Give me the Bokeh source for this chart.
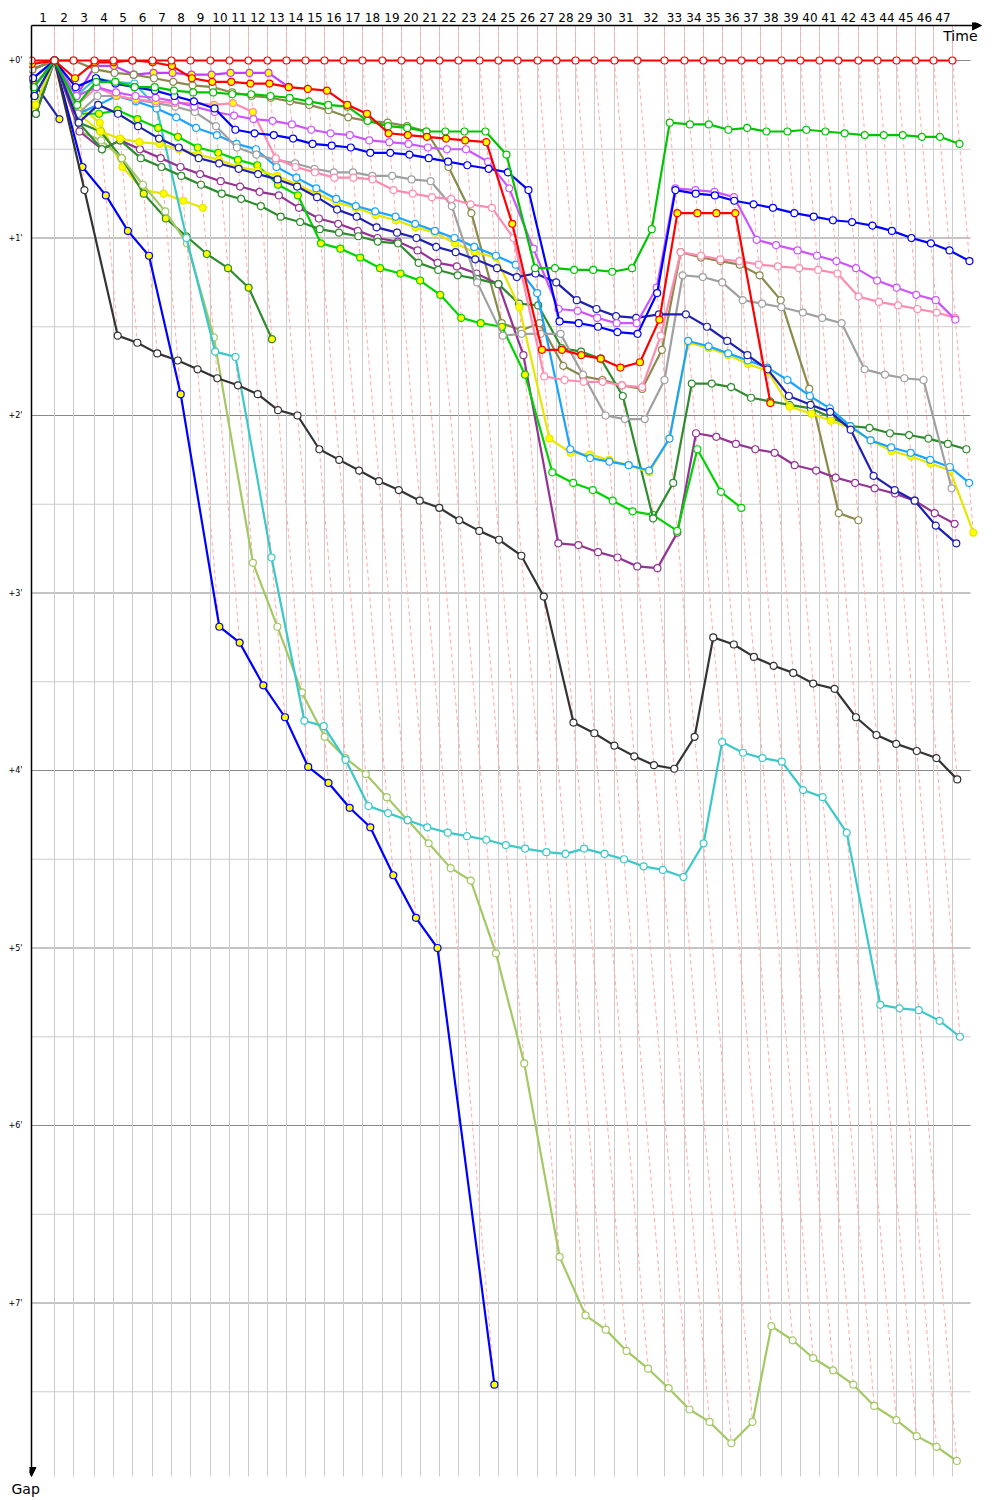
from bokeh.plotting import figure
from bokeh.models import (ColumnDataSource, FixedTicker, Arrow, NormalHead, Label, Range1d,
                          Title)
from bokeh.embed import file_html
from bokeh.resources import INLINE

# leader's lap completion times (minutes since start), laps 0..47
lap_times = [0.0, 1.533, 2.8, 4.2, 5.467, 6.733, 8.067, 9.333, 10.6, 11.933, 13.2,
             14.467, 15.733, 17.0, 18.267, 19.533, 20.8, 22.067, 23.4, 24.667, 25.933,
             27.2, 28.467, 29.867, 31.133, 32.4, 33.733, 35.0, 36.267, 37.533, 38.867,
             40.4, 42.2, 43.533, 44.8, 46.067, 47.333, 48.6, 50.0, 51.267, 52.533,
             53.8, 55.133, 56.4, 57.667, 58.933, 60.133, 61.4]
lap_labels = [str(k) for k in range(1, 48)]
gap_ticks = [0, 1, 2, 3, 4, 5, 6, 7]
gap_labels = ["+0'", "+1'", "+2'", "+3'", "+4'", "+5'", "+6'", "+7'"]

# gap to leader (minutes) per completed lap, starting at lap 0
gaps_leader = [0, 0, 0, 0, 0, 0, 0, 0, 0, 0, 0, 0, 0, 0, 0, 0, 0, 0, 0, 0, 0, 0, 0, 0,
               0, 0, 0, 0, 0, 0, 0, 0, 0, 0, 0, 0, 0, 0, 0, 0, 0, 0, 0, 0, 0, 0, 0, 0]
gaps_red2 = [0.02, 0, 0.1, 0.01, 0.01, 0.0, 0.01, 0.03, 0.1, 0.12, 0.12, 0.13, 0.13, 0.15,
             0.16, 0.17, 0.25, 0.3, 0.41, 0.42, 0.43, 0.44, 0.45, 0.46, 0.92, 1.63, 1.63,
             1.66, 1.68, 1.73, 1.70, 1.46, 0.86, 0.86, 0.86, 0.86, 1.93]
gaps_green = [0.15, 0, 0.25, 0.12, 0.12, 0.15, 0.15, 0.17, 0.18, 0.18, 0.19, 0.19, 0.2, 0.21,
              0.23, 0.25, 0.26, 0.34, 0.37, 0.38, 0.4, 0.4, 0.4, 0.4, 0.53, 1.17, 1.17, 1.18,
              1.18, 1.19, 1.17, 0.95, 0.35, 0.36, 0.36, 0.39, 0.38, 0.4, 0.4, 0.39, 0.4,
              0.41, 0.42, 0.42, 0.42, 0.43, 0.43, 0.47]
gaps_olive = [0.05, 0, 0, 0.05, 0.07, 0.08, 0.1, 0.12, 0.14, 0.15, 0.18, 0.2, 0.21, 0.23,
              0.25, 0.28, 0.32, 0.34, 0.35, 0.37, 0.4, 0.6, 0.86, 1.48, 1.52, 1.48, 1.72,
              1.78, 1.8, 1.83, 1.85, 1.63, 1.08, 1.11, 1.13, 1.15, 1.21, 1.35, 1.85, 2.55, 2.59]
gaps_blue = [0.1, 0, 0.15, 0.1, 0.13, 0.15, 0.17, 0.2, 0.23, 0.27, 0.39, 0.41, 0.42, 0.44,
             0.47, 0.48, 0.49, 0.52, 0.52, 0.53, 0.55, 0.57, 0.59, 0.61, 0.63, 0.73, 1.47,
             1.48, 1.5, 1.53, 1.54, 1.31, 0.73, 0.75, 0.76, 0.79, 0.81, 0.83, 0.86, 0.88,
             0.9, 0.91, 0.93, 0.96, 1.0, 1.03, 1.07, 1.13]
gaps_navy = [0.2, 0, 0.35, 0.25, 0.3, 0.37, 0.44, 0.49, 0.55, 0.58, 0.61, 0.64, 0.67, 0.71,
             0.77, 0.84, 0.88, 0.94, 0.97, 1.0, 1.05, 1.08, 1.12, 1.17, 1.22, 1.2, 1.25,
             1.35, 1.4, 1.44, 1.45, 1.43, 1.43, 1.5, 1.58, 1.66, 1.74, 1.89, 1.94, 1.98,
             2.08, 2.34, 2.42, 2.48, 2.62, 2.72]
gaps_grey = [0.1, 0, 0.3, 0.2, 0.2, 0.22, 0.24, 0.26, 0.29, 0.37, 0.49, 0.53, 0.56, 0.58,
             0.61, 0.63, 0.63, 0.65, 0.65, 0.67, 0.68, 0.82, 1.25, 1.55, 1.54, 1.54, 1.54,
             1.77, 2.0, 2.02, 2.02, 1.8, 1.21, 1.22, 1.25, 1.35, 1.37, 1.39, 1.42, 1.45,
             1.48, 1.74, 1.77, 1.79, 1.8, 2.41]
gaps_pink = [0.15, 0, 0.25, 0.15, 0.2, 0.22, 0.23, 0.24, 0.24, 0.25, 0.24, 0.29, 0.55, 0.6,
             0.63, 0.66, 0.66, 0.67, 0.73, 0.75, 0.77, 0.78, 0.81, 0.83, 1.0, 1.78, 1.8,
             1.81, 1.81, 1.83, 1.84, 1.55, 1.08, 1.1, 1.12, 1.13, 1.15, 1.16, 1.17, 1.18,
             1.2, 1.33, 1.36, 1.38, 1.4, 1.42, 1.45]
gaps_sky = [0.2, 0, 0.3, 0.25, 0.2, 0.23, 0.27, 0.32, 0.38, 0.42, 0.47, 0.5, 0.6, 0.66,
            0.72, 0.78, 0.82, 0.85, 0.88, 0.92, 0.96, 1.0, 1.05, 1.1, 1.15, 1.31, 2.19,
            2.24, 2.26, 2.28, 2.31, 2.13, 1.58, 1.61, 1.65, 1.69, 1.73, 1.8, 1.89, 1.96,
            2.06, 2.14, 2.18, 2.21, 2.25, 2.29, 2.38]
gaps_yellow = [0.25, 0, 0.3, 0.4, 0.44, 0.46, 0.47, 0.5, 0.53, 0.56, 0.6, 0.62, 0.65, 0.7,
               0.75, 0.8, 0.83, 0.87, 0.9, 0.94, 0.97, 1.03, 1.08, 1.11, 1.39, 2.13, 2.21,
               2.22, 2.25, 2.28, 2.32, 2.13, 1.59, 1.62, 1.66, 1.71, 1.75, 1.95, 1.99, 2.03,
               2.07, 2.14, 2.2, 2.23, 2.27, 2.31, 2.66]
gaps_yellow2 = [0.25, 0, 0.25, 0.35, 0.6, 0.73, 0.75, 0.79, 0.83]
gaps_forest2 = [0.3, 0, 0.35, 0.4, 0.55, 0.75, 0.89, 0.99, 1.09, 1.17, 1.28, 1.57]
gaps_forest = [0.3, 0, 0.35, 0.5, 0.45, 0.55, 0.6, 0.65, 0.7, 0.75, 0.78, 0.82, 0.88, 0.91,
               0.95, 0.97, 0.99, 1.02, 1.03, 1.14, 1.18, 1.21, 1.23, 1.26, 1.37, 1.38, 1.62,
               1.64, 1.68, 1.89, 2.58, 2.38, 1.82, 1.82, 1.84, 1.9, 1.92, 1.94, 1.96, 2.01,
               2.06, 2.07, 2.1, 2.11, 2.13, 2.16, 2.19]
gaps_lime = [0.25, 0, 0.3, 0.3, 0.28, 0.33, 0.38, 0.43, 0.49, 0.52, 0.56, 0.59, 0.7, 0.76,
             1.03, 1.06, 1.11, 1.17, 1.2, 1.24, 1.32, 1.45, 1.48, 1.5, 1.77, 2.32, 2.38,
             2.42, 2.48, 2.54, 2.56, 2.65, 2.19, 2.43, 2.52]
gaps_purple = [0.3, 0, 0.4, 0.5, 0.45, 0.5, 0.55, 0.6, 0.64, 0.68, 0.71, 0.74, 0.76, 0.83,
               0.89, 0.92, 0.96, 1.0, 1.02, 1.07, 1.14, 1.16, 1.2, 1.26, 1.66, 2.72, 2.73,
               2.77, 2.8, 2.85, 2.86, 2.66, 2.1, 2.12, 2.16, 2.19, 2.21, 2.28, 2.31, 2.35,
               2.38, 2.41, 2.44, 2.48, 2.55, 2.61]
gaps_black = [0.05, 0, 0.73, 1.55, 1.59, 1.65, 1.69, 1.74, 1.79, 1.83, 1.88, 1.97, 2.0, 2.19,
              2.25, 2.31, 2.37, 2.42, 2.48, 2.52, 2.59, 2.65, 2.7, 2.79, 3.02, 3.73, 3.79,
              3.86, 3.92, 3.97, 3.99, 3.81, 3.25, 3.29, 3.36, 3.41, 3.45, 3.51, 3.54, 3.7,
              3.8, 3.85, 3.89, 3.93, 4.05]
gaps_blue2 = [0.15, 0, 0.6, 0.76, 0.96, 1.1, 1.88, 3.19, 3.28, 3.52, 3.7, 3.98, 4.07, 4.21,
              4.32, 4.59, 4.83, 5.0, 7.46]
gaps_lightgreen = [0.2, 0, 0.4, 0.45, 0.55, 0.7, 0.85, 1.03, 1.56, 2.83, 3.19, 3.56, 3.81,
                   3.93, 4.02, 4.15, 4.28, 4.41, 4.55, 4.62, 5.03, 5.65, 6.74, 7.07, 7.15,
                   7.27, 7.37, 7.48, 7.6, 7.67, 7.79, 7.67, 7.13, 7.21, 7.31, 7.38, 7.46,
                   7.58, 7.66, 7.75, 7.81, 7.89]
gaps_cyan = [0.1, 0, 0.2, 0.1, 0.12, 0.13, 0.26, 1.0, 1.64, 1.67, 2.8, 3.72, 3.75, 3.94,
             4.2, 4.24, 4.28, 4.32, 4.35, 4.37, 4.39, 4.42, 4.44, 4.46, 4.47, 4.44, 4.47,
             4.5, 4.54, 4.56, 4.6, 4.41, 3.84, 3.9, 3.93, 3.95, 4.11, 4.15, 4.35, 5.32,
             5.34, 5.35, 5.41, 5.5]
gaps_violet = [0.1, 0, 0.2, 0.15, 0.18, 0.2, 0.21, 0.23, 0.26, 0.29, 0.31, 0.33, 0.34, 0.36,
               0.39, 0.41, 0.42, 0.45, 0.46, 0.47, 0.49, 0.5, 0.5, 0.57, 0.72, 1.06, 1.4,
               1.41, 1.45, 1.48, 1.48, 1.28, 0.72, 0.73, 0.74, 0.77, 1.01, 1.04, 1.07, 1.1,
               1.13, 1.17, 1.24, 1.28, 1.32, 1.35, 1.46]
gaps_magenta = [0.1, 0, 0.2, 0.03, 0.03, 0.08, 0.07, 0.07, 0.08, 0.08, 0.07, 0.07, 0.07, 0.15]
gaps_navy2 = [0.12, 0.33]

# style per driver: (gaps, line colour, last lap drawn with a yellow marker)
drivers = [
    (gaps_navy2, "#2424a8", 99),
    (gaps_magenta, "#c23cff", 99),
    (gaps_yellow2, "#e6e600", 99),
    (gaps_forest2, "#2e8b2e", 99),
    (gaps_blue2, "#0000ff", 99),
    (gaps_lightgreen, "#a3c864", -1),
    (gaps_cyan, "#3cc8c8", -1),
    (gaps_black, "#333333", -1),
    (gaps_olive, "#8a8a4c", -1),
    (gaps_purple, "#933393", -1),
    (gaps_lime, "#00d400", 24),
    (gaps_forest, "#2e8b2e", -1),
    (gaps_yellow, "#e6e600", 99),
    (gaps_sky, "#18a4ff", -1),
    (gaps_grey, "#a0a0a0", -1),
    (gaps_pink, "#ff8cb0", 11),
    (gaps_navy, "#2020b0", -1),
    (gaps_violet, "#cc55ff", -1),
    (gaps_blue, "#0000ff", -1),
    (gaps_green, "#00c400", -1),
    (gaps_red2, "#ff0000", 99),
    (gaps_leader, "#ff0000", -1),
]

PX_X = 15.0     # px per minute along time
PX_Y = 177.5    # px per minute of gap
y_top = -35 / PX_Y
y_bottom = 1416 / PX_Y

p = figure(width=1000, height=1500, output_backend="svg", toolbar_location=None,
           x_range=Range1d(-2 / PX_X, 959 / PX_X),
           y_range=Range1d(1418 / PX_Y, -38 / PX_Y),
           x_axis_location="above",
           min_border_left=29, min_border_right=10, min_border_top=22, min_border_bottom=22)
p.outline_line_color = None
p.xgrid.visible = False
p.ygrid.visible = False

# axes
mids = [round((lap_times[k - 1] + lap_times[k]) / 2, 4) for k in range(1, 48)]
p.xaxis.ticker = FixedTicker(ticks=mids)
p.xaxis.major_label_overrides = {m: lab for m, lab in zip(mids, lap_labels)}
p.xaxis.axis_line_color = None
p.xaxis.major_tick_line_color = None
p.xaxis.minor_tick_line_color = None
p.xaxis.major_tick_out = 0
p.xaxis.major_label_standoff = 1
p.xaxis.major_label_text_font = "DejaVu Sans"
p.xaxis.major_label_text_font_size = "12px"
p.xaxis.major_label_text_color = "#000000"

p.yaxis.ticker = FixedTicker(ticks=gap_ticks)
p.yaxis.major_label_overrides = {t: lab for t, lab in zip(gap_ticks, gap_labels)}
p.yaxis.axis_line_color = None
p.yaxis.major_tick_line_color = None
p.yaxis.minor_tick_line_color = None
p.yaxis.major_tick_out = 0
p.yaxis.major_label_standoff = 7
p.yaxis.major_label_text_font = "DejaVu Sans"
p.yaxis.major_label_text_font_size = "8px"
p.yaxis.major_label_text_color = "#000000"

x_grid_end = (970 - 31) / PX_X

# horizontal grid lines
minor_y = [t + 0.5 for t in gap_ticks]
p.multi_line([[0, x_grid_end]] * len(minor_y), [[v, v] for v in minor_y],
             line_color="#cccccc", line_width=1)
p.multi_line([[0, x_grid_end]] * len(gap_ticks), [[v, v] for v in gap_ticks],
             line_color="#888888", line_width=1)
# vertical lap lines
p.multi_line([[t, t] for t in lap_times[1:]], [[y_top, y_bottom]] * 47,
             line_color="#cccccc", line_width=1)

# dashed lap lines through every driver's point of that lap
dash_x, dash_y = [], []
for k in range(1, 48):
    gs = [d[0][k] for d in drivers if len(d[0]) > k]
    gmax = max(gs)
    t = lap_times[k]
    dash_x.append([t, t, t + gmax])
    dash_y.append([y_top, 0, gmax])
p.multi_line(dash_x, dash_y, line_color="#ffaaaa", line_width=1, line_dash="4 3")

# drivers
for gaps, color, yellow_until in drivers:
    xs = [lap_times[k] + g for k, g in enumerate(gaps)]
    fills = ["#ffff00" if k <= yellow_until else "#ffffff" for k in range(len(gaps))]
    src = ColumnDataSource(dict(x=xs, y=gaps, fill=fills))
    p.line("x", "y", source=src, line_color=color, line_width=2.2)
    p.scatter("x", "y", source=src, size=7, fill_color="fill", line_color=color,
              line_width=1.2)

# axis arrows
p.add_layout(Arrow(end=NormalHead(size=9, fill_color="black", line_color="black"),
                   x_start=0, y_start=y_top, x_end=(981 - 31) / PX_X, y_end=y_top,
                   line_color="black", line_width=1.5))
p.add_layout(Arrow(end=NormalHead(size=9, fill_color="black", line_color="black"),
                   x_start=0, y_start=y_top, x_end=0, y_end=y_bottom,
                   line_color="black", line_width=1.5))
p.add_layout(Label(x=(977 - 31) / PX_X, y=(35 - 60) / PX_Y, text="Time",
                   text_align="right", text_baseline="middle",
                   text_font="DejaVu Sans", text_font_size="14px", text_color="#000000"))
p.add_layout(Title(text="Gap", align="left", offset=-18, standoff=0,
                   text_font="DejaVu Sans", text_font_size="14px",
                   text_font_style="normal", text_color="#000000"), "below")

open("out.html", "w").write(file_html(p, INLINE))
